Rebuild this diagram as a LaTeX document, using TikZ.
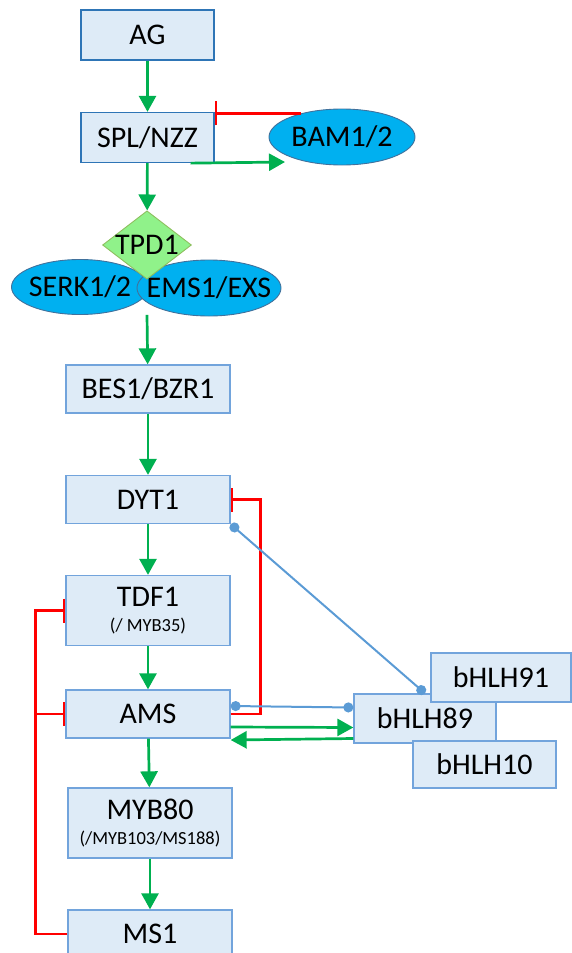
\documentclass[tikz,border=0pt]{standalone}
\usepackage{fontspec}
\setmainfont{Carlito}
\usetikzlibrary{arrows.meta,shapes.geometric}

\definecolor{boxfill}{HTML}{DEEBF7}
\definecolor{boxline}{HTML}{72A4DC}
\definecolor{topline}{HTML}{2E75B6}
\definecolor{ovalfill}{HTML}{00B0F0}
\definecolor{ovalline}{HTML}{41719C}
\definecolor{tpdfill}{HTML}{90F28A}
\definecolor{tpdline}{HTML}{8DBF5E}
\definecolor{actgreen}{HTML}{00B050}
\definecolor{inhred}{HTML}{FF0000}
\definecolor{linkblue}{HTML}{5B9BD5}

\tikzset{
  gene/.style={draw=boxline, fill=boxfill, line width=1.3pt, inner sep=0pt,
    minimum width=164pt, minimum height=48pt, align=center,
    font=\fontsize{30}{25}\selectfont},
  topgene/.style={gene, draw=topline, minimum width=133pt, minimum height=50pt},
  receptor/.style={ellipse, draw=ovalline, fill=ovalfill, line width=0.9pt, inner sep=0pt,
    font=\fontsize{30}{30}\selectfont,
    execute at begin node=\hbox to 0pt\bgroup\hss,
    execute at end node=\hss\egroup},
  act/.style={draw=actgreen, line width=2.7pt, -{Triangle[length=16pt,width=17pt]}},
  inh/.style={draw=inhred, line width=2.6pt, -{Bar[width=24pt]}},
  link/.style={draw=linkblue, line width=2pt, {Circle[length=10pt]}-{Circle[length=10pt]}},
}
\newcommand{\subname}[1]{\\{\fontsize{18.5}{19}\selectfont #1}}

\begin{document}
\begin{tikzpicture}[x=1pt,y=-1pt]
  \useasboundingbox (0,0) rectangle (571,953);

  \node[topgene] (ag) at (147.5,35) {AG};
  \node[topgene] (spl) at (147.5,137.5) {SPL/NZZ};
  \node[receptor, minimum width=146pt, minimum height=56pt] (bam) at (342,137) {BAM1/2};
  \coordinate (bamin) at (285,162);

  \node[receptor, minimum width=137pt, minimum height=55pt] (serk) at (80,287) {SERK1/2};
  \node[receptor, minimum width=144pt, minimum height=56pt] (ems) at (209,288) {EMS1/EXS};
  \node[diamond, draw=tpdline, fill=tpdfill, line width=0.9pt, inner sep=0pt, aspect=1.3,
    minimum width=85pt, minimum height=65pt, font=\fontsize{30}{30}\selectfont] (tpd) at (147,245) {TPD1};

  \node[gene] (bes) at (148,389) {BES1/BZR1};
  \node[gene] (dyt) at (148,499.5) {DYT1};
  \node[gene, minimum height=70pt] (tdf) at (148,610.5) {TDF1\subname{(/ MYB35)}};
  \node[gene] (ams) at (148,714) {AMS};
  \node[gene, minimum height=70pt] (myb) at (150,823) {MYB80\subname{(/MYB103/MS188)}};
  \node[gene] (ms) at (150,934) {MS1};

  \node[gene, minimum width=142pt, minimum height=49pt] (b89) at (425,718.5) {bHLH89};
  \node[gene, minimum width=140pt, minimum height=49pt] (b91) at (501,677.5) {bHLH91};
  \node[gene, minimum width=143pt, minimum height=47pt] (b10) at (484.5,764.5) {bHLH10};

  \draw[act] (ag) -- (spl);
  \draw[act] (spl) -- (tpd);
  \draw[inh] (bam.150) -- (spl.east |- bam.150);
  \draw[act] ([xshift=-24pt]spl.south east) -- (bamin);
  \draw[act] (tpd.south |- serk.south) -- (bes);
  \draw[act] (bes) -- (dyt);
  \draw[act] (dyt) -- (tdf);
  \draw[act] (tdf) -- (ams);
  \draw[act] (ams) -- (myb);
  \draw[act] (myb) -- (ms);

  \draw[inh] (ams.east) -- ++(30,0) |- (dyt.east);
  \draw[inh] (ms.west) -| ([xshift=-30pt]tdf.west) -- (tdf.west);
  \draw[inh] ([xshift=-30pt]ams.west) -- (ams.west);

  \draw[link] (dyt.south east) -- (b89.north);
  \draw[link] ([yshift=8pt]ams.east) -- ([yshift=11pt]b89.west);
  \draw[act] ([yshift=-13pt]ams.east) -- ([yshift=-9pt]b89.west);
  \draw[act] ([yshift=-20pt]b89.west) -- ([yshift=-26pt]ams.east);
\end{tikzpicture}
\end{document}
